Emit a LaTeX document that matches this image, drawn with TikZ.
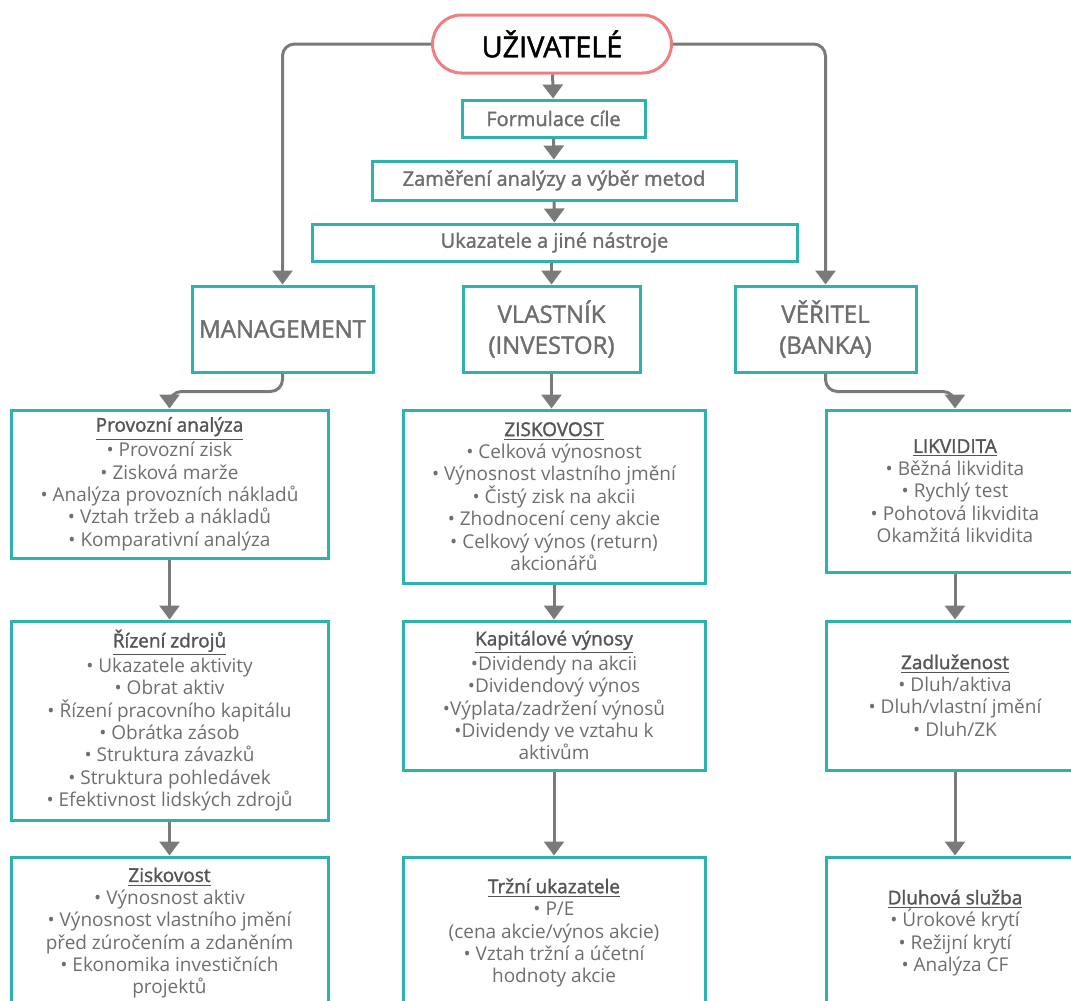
\documentclass[tikz,border=0pt]{standalone}
\usepackage{fontspec}
\setmainfont{Open Sans}
\newfontfamily\semib[FakeBold=1.6]{Open Sans}
\usetikzlibrary{arrows.meta}
\definecolor{tealb}{HTML}{2DB3AD}
\definecolor{greyline}{HTML}{7A7A7A}
\definecolor{greytext}{HTML}{6E6E6E}
\definecolor{headtext}{HTML}{555555}
\definecolor{pinkline}{HTML}{EF7F7F}
\newcommand{\hd}[1]{{\semib\color{headtext}\underline{#1}}}

\begin{document}
\begin{tikzpicture}[x=0.5pt, y=-0.5pt,
    font=\fontsize{9.5}{11.2}\selectfont,
    box/.style 2 args={draw=tealb, line width=1.5pt, align=center, text=greytext,
        inner sep=0pt, minimum width=#1*0.5pt, minimum height=#2*0.5pt},
    step box/.style 2 args={box={#1}{#2}, font=\semib\fontsize{10}{12}\selectfont},
    user box/.style 2 args={box={#1}{#2}, font=\semib\fontsize{12}{15.5}\selectfont},
    pill/.style={draw=pinkline, line width=1.5pt, rounded corners=14.5pt, fill=white,
        minimum width=119.5pt, minimum height=29pt, font=\semib\fontsize{14.4}{16}\selectfont},
    arr/.style={draw=greyline, line width=1.5pt, rounded corners=6pt,
        -{Triangle[width=10pt,length=7pt]}}]
    \useasboundingbox (0,0) rectangle (1071,1001);
    \clip (0,0) rectangle (1071,1001);

    % top chain
    \node[pill] (uziv) at (552,44) {UŽIVATELÉ};
    \node[step box={183}{37}] (cil) at (553.5,118.5) {Formulace cíle};
    \node[step box={364}{39}] (metody) at (554,180.5) {Zaměření analýzy a výběr metod};
    \node[step box={485}{37}] (nastroje) at (554.5,242.5) {Ukazatele a jiné nástroje};

    % users
    \node[user box={181}{86}] (mgmt) at (282.5,329) {MANAGEMENT};
    \node[user box={177}{86}] (vlastnik) at (551.5,329) {VLASTNÍK\\(INVESTOR)};
    \node[user box={181}{86}] (veritel) at (825.5,329) {VĚŘITEL\\(BANKA)};

    % management column
    \node[box={317}{148}] (provoz) at (169.5,484) {\hd{Provozní analýza}\\
        • Provozní zisk\\ • Zisková marže\\ • Analýza provozních nákladů\\
        • Vztah tržeb a nákladů\\ • Komparativní analýza};
    \node[box={317}{199}] (zdroje) at (169.5,720.5) {\hd{Řízení zdrojů}\\
        • Ukazatele aktivity\\ • Obrat aktiv\\ • Řízení pracovního kapitálu\\
        • Obrátka zásob\\ • Struktura závazků\\ • Struktura pohledávek\\
        • Efektivnost lidských zdrojů};
    \node[box={317}{152}] (ziskovost) at (169.5,933) {\hd{Ziskovost}\\
        • Výnosnost aktiv\\ • Výnosnost vlastního jmění\\ před zúročením a zdaněním\\
        • Ekonomika investičních\\ projektů};

    % owner column
    \node[box={302}{173}] (zisk) at (554,496.5) {\hd{ZISKOVOST}\\
        • Celková výnosnost\\ • Výnosnost vlastního jmění\\ • Čistý zisk na akcii\\
        • Zhodnocení ceny akcie\\ • Celkový výnos (return)\\ akcionářů};
    \node[box={302}{149}] (kapital) at (554,695.5) {\hd{Kapitálové výnosy}\\
        •Dividendy na akcii\\ •Dividendový výnos\\ •Výplata/zadržení výnosů\\
        •Dividendy ve vztahu k\\ aktivům};
    \node[box={302}{152}] (trh) at (554,933) {\hd{Tržní ukazatele}\\
        • P/E\\ (cena akcie/výnos akcie)\\ • Vztah tržní a účetní\\ hodnoty akcie};

    % creditor column
    \node[box={258}{162}] (likvidita) at (955,491) {\hd{LIKVIDITA}\\
        • Běžná likvidita\\ • Rychlý test\\ • Pohotová likvidita\\ Okamžitá likvidita};
    \node[box={258}{149}] (dluh) at (955,695.5) {\hd{Zadluženost}\\
        • Dluh/aktiva\\ • Dluh/vlastní jmění\\ • Dluh/ZK};
    \node[box={258}{152}] (sluzba) at (955,933) {\hd{Dluhová služba}\\
        • Úrokové krytí\\ • Režijní krytí\\ • Analýza CF};

    % connectors
    \draw[arr] (uziv) -- (cil);
    \draw[arr] (cil) -- (metody);
    \draw[arr] (metody) -- (nastroje);
    \draw[arr] (nastroje.south -| vlastnik.north) -- (vlastnik);
    \draw[arr] (uziv.west) -| (mgmt.north);
    \draw[arr] (uziv.east) -| (veritel.north);
    \draw[arr] (mgmt.south) -- ++(0,18) -| (provoz.north);
    \draw[arr] (vlastnik) -- (vlastnik |- zisk.north);
    \draw[arr] (veritel.south) -- ++(0,18) -| (likvidita.north);
    \draw[arr] (provoz) -- (zdroje);
    \draw[arr] (zdroje) -- (ziskovost);
    \draw[arr] (zisk) -- (kapital);
    \draw[arr] (kapital) -- (trh);
    \draw[arr] (likvidita) -- (dluh);
    \draw[arr] (dluh) -- (sluzba);
\end{tikzpicture}
\end{document}
